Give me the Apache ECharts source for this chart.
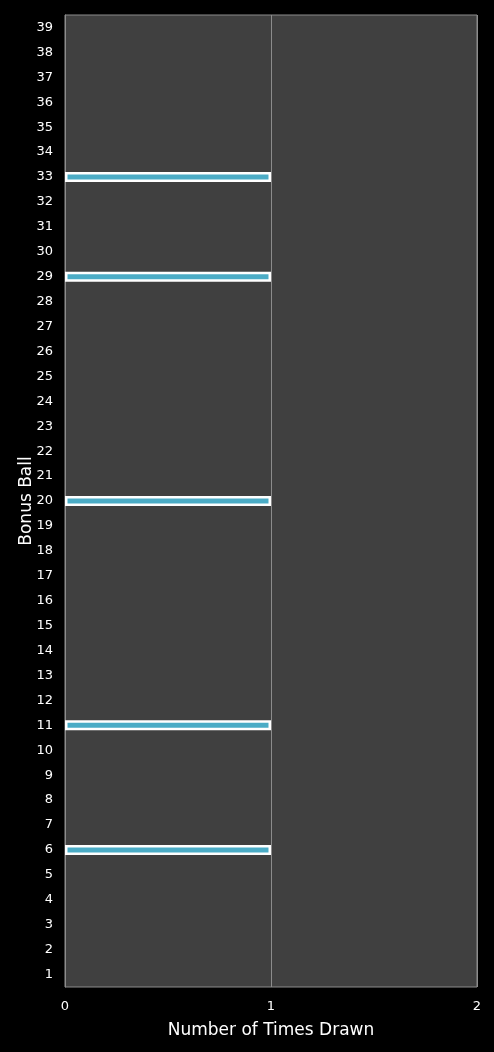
<!DOCTYPE html>
<html><head><meta charset="utf-8">
<style>html,body{margin:0;padding:0;background:#000;}#c{width:494px;height:1052px;}</style>
<script src="https://cdn.jsdelivr.net/npm/echarts@6/dist/echarts.min.js"></script>
</head><body><div id="c"></div>
<script>
const balls = [];
for (let i = 1; i <= 39; i++) balls.push(String(i));
const drawnBalls = ['6', '11', '20', '29', '33'];
const drawnCounts = [1, 1, 1, 1, 1];
const xTicks = [0, 1, 2];

const values = balls.map(b => {
  const k = drawnBalls.indexOf(b);
  return k >= 0 ? drawnCounts[k] : null;
});

const font = 'DejaVu Sans';
const chart = echarts.init(document.getElementById('c'));
chart.setOption({
  backgroundColor: '#000',
  animation: false,
  grid: {left: 65, right: 17, top: 15, bottom: 65, show: true,
         backgroundColor: '#404040', borderColor: '#8c8c8c', borderWidth: 1},
  xAxis: {type: 'value', min: xTicks[0], max: xTicks[xTicks.length - 1], interval: 1,
    name: 'Number of Times Drawn', nameLocation: 'middle', nameGap: 35, nameMoveOverlap: false,
    nameTextStyle: {color: '#fff', fontSize: 17, fontFamily: font},
    axisLine: {show: false}, axisTick: {show: false},
    axisLabel: {color: '#fff', fontSize: 13, fontFamily: font, margin: 13},
    splitLine: {show: true, lineStyle: {color: '#8c8c8c', width: 1}}},
  yAxis: {type: 'category', data: balls,
    name: 'Bonus Ball', nameLocation: 'middle', nameGap: 30, nameMoveOverlap: false,
    nameTextStyle: {color: '#fff', fontSize: 17, fontFamily: font},
    axisLine: {show: true, lineStyle: {color: '#8c8c8c'}}, axisTick: {show: false},
    axisLabel: {color: '#fff', fontSize: 13, fontFamily: font, margin: 12, interval: 0},
    splitLine: {show: false}},
  series: [{type: 'bar', data: values, barWidth: 10,
    itemStyle: {color: '#4bacc6', borderColor: '#fff', borderWidth: 2.5}}]
});
</script></body></html>
